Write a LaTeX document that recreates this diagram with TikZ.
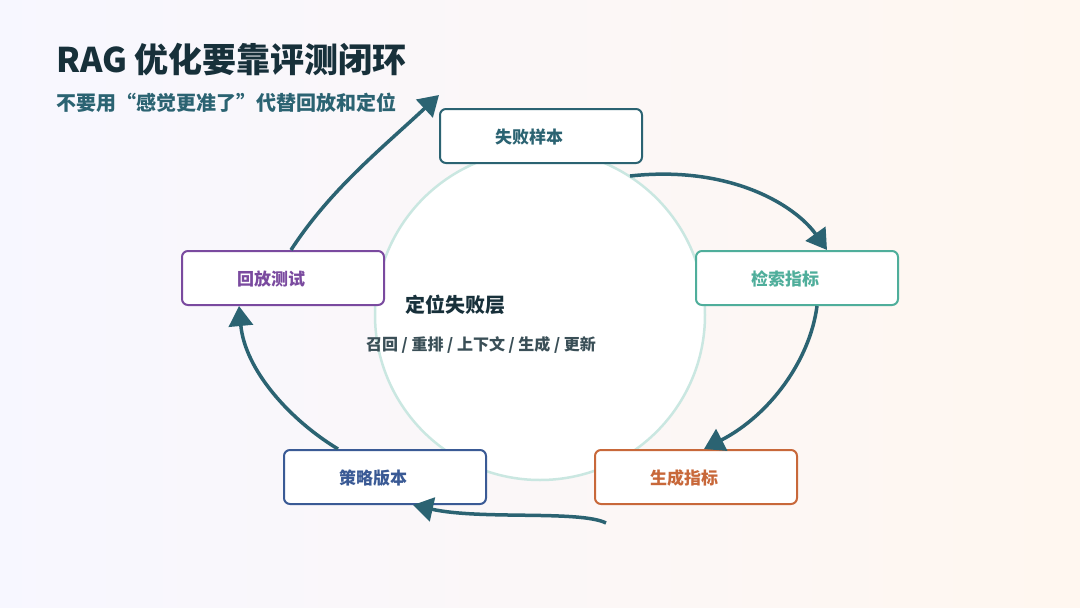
\documentclass[tikz,border=0pt]{standalone}
\usepackage{fontspec}
\setmainfont{Noto Sans CJK SC}
\usetikzlibrary{arrows.meta}
\definecolor{teal}{HTML}{2B6372}
\definecolor{grn}{HTML}{4FAE9B}
\definecolor{org}{HTML}{C8683A}
\definecolor{blu}{HTML}{3A5A95}
\definecolor{pur}{HTML}{7A4A9F}
\definecolor{dark}{HTML}{17303A}
\begin{document}
\begin{tikzpicture}[x=1pt,y=-1pt,
  box/.style={draw=#1,line width=2pt,rounded corners=6pt,fill=white,minimum width=202pt,minimum height=54pt,anchor=north west,text=#1,font=\bfseries\fontsize{17}{20}\selectfont,align=left,text width=160pt,inner sep=0pt,text depth=0pt},
  arr/.style={draw=teal,line width=3.5pt,-{Triangle[length=20pt,width=24pt]}}]
\shade[left color=blue!3,right color=orange!6] (0,0) rectangle (1080,608);
\useasboundingbox (0,0) rectangle (1080,608);
\node[anchor=west,text=dark,font=\bfseries\fontsize{34}{40}\selectfont] (t) at (53,60) {RAG 优化要靠评测闭环};
\node[anchor=west,text=teal,font=\bfseries\fontsize{20}{24}\selectfont] (s) at (53,103) {不要用“感觉更准了”代替回放和定位};
\node[circle,draw=grn!30,line width=2.5pt,fill=white,minimum size=330pt] (c) at (540,315) {};
\node[box=teal] (a) at (439,108) {\hspace*{34pt}失败样本};
\node[box=grn] (b) at (695,250) {\hspace*{34pt}检索指标};
\node[box=org] (g) at (594,449) {\hspace*{34pt}生成指标};
\node[box=blu] (v) at (283,449) {\hspace*{34pt}策略版本};
\node[box=pur] (r) at (181,250) {\hspace*{34pt}回放测试};
\node[text=dark,font=\bfseries\fontsize{20}{24}\selectfont] (ct) at (455,305) {定位失败层};
\node[text=dark!85,font=\bfseries\fontsize{16}{20}\selectfont] (cs) at (481,345) {召回 / 重排 / 上下文 / 生成 / 更新};
\draw[arr] ([xshift=-13pt,yshift=-12pt]a.south east) .. controls (730,165) and (795,205) .. ([xshift=-72pt]b.north east);
\draw[arr] ([xshift=-82pt]b.south east) .. controls (810,360) and (770,415) .. ([xshift=110pt]g.north west);
\draw[arr] ([xshift=12pt,yshift=-18pt]g.south west) .. controls (580,510) and (480,520) .. ([xshift=130pt]v.south west);
\draw[arr] ([xshift=55pt]v.north west) .. controls (290,420) and (245,370) .. ([xshift=58pt]r.south west);
\draw[arr] ([xshift=110pt]r.north west) .. controls (330,190) and (380,150) .. ([yshift=13pt]a.north west);
\end{tikzpicture}
\end{document}
